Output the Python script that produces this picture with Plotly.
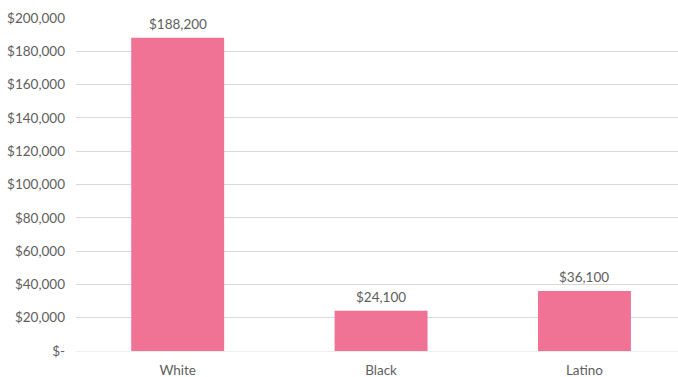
import plotly.graph_objects as go

# Median household wealth by group
groups = ["White", "Black", "Latino"]
wealth = [188200, 24100, 36100]

tick_values = [0, 20000, 40000, 60000, 80000, 100000, 120000, 140000, 160000, 180000, 200000]
tick_labels = ["$-", "$20,000", "$40,000", "$60,000", "$80,000", "$100,000",
               "$120,000", "$140,000", "$160,000", "$180,000", "$200,000"]

BAR_COLOR = "#F07396"
TEXT_COLOR = "#5E5E5E"
GRID_COLOR = "#D9D9D9"
FONT = "Lato, 'Open Sans', sans-serif"
FONT_SIZE = 13.5

fig = go.Figure(
    go.Bar(
        x=list(range(len(groups))),
        y=wealth,
        width=0.457,
        marker=dict(color=BAR_COLOR, line=dict(width=0)),
        hoverinfo="skip",
    )
)

# value labels above each bar
for i, v in enumerate(wealth):
    fig.add_annotation(
        x=i, y=v, text=f"${v:,.0f}", showarrow=False,
        yanchor="bottom", yshift=4,
        font=dict(family=FONT, size=FONT_SIZE, color=TEXT_COLOR),
    )

fig.update_layout(
    width=678, height=377,
    margin=dict(l=76, r=0, t=18, b=26, autoexpand=False),
    paper_bgcolor="white", plot_bgcolor="white",
    showlegend=False,
    font=dict(family=FONT, size=FONT_SIZE, color=TEXT_COLOR),
    xaxis=dict(
        range=[-0.5, 2.46],
        tickvals=list(range(len(groups))),
        ticktext=groups,
        showgrid=False, zeroline=False,
        showline=True, linecolor="rgba(235,235,235,0.8)", linewidth=1,
        layer="above traces",
        ticks="", ticklabelstandoff=7,
        automargin=False,
        tickfont=dict(family=FONT, size=FONT_SIZE, color=TEXT_COLOR),
    ),
    yaxis=dict(
        range=[0, 200000],
        tickvals=tick_values,
        ticktext=tick_labels,
        showgrid=True, gridcolor=GRID_COLOR, gridwidth=1,
        zeroline=False, showline=False,
        ticks="", ticklabelstandoff=10,
        automargin=False,
        tickfont=dict(family=FONT, size=FONT_SIZE, color=TEXT_COLOR),
    ),
)

fig.write_html("out.html")
